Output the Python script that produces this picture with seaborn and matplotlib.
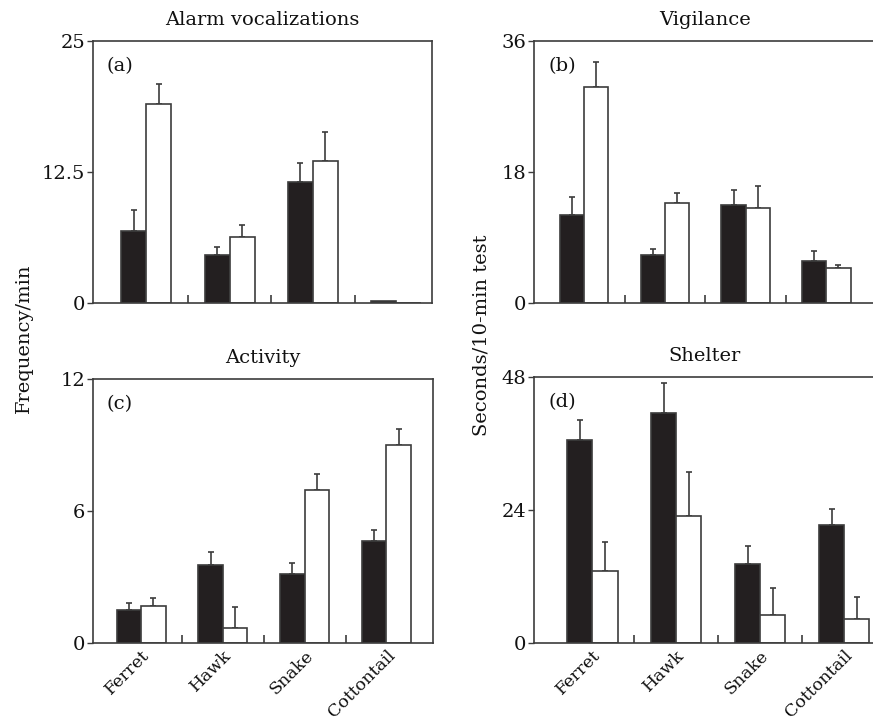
import numpy as np
import pandas as pd
import matplotlib
matplotlib.use("Agg")
import matplotlib.pyplot as plt
import seaborn as sns

# ---------------- data ----------------
categories = ["Ferret", "Hawk", "Snake", "Cottontail"]
groups = ["Filled", "Open"]

alarm_filled = [6.8, 4.5, 11.5, 0.15]
alarm_open = [19.0, 6.25, 13.5, 0.0]
alarm_filled_se = [2.0, 0.85, 1.8, 0.0]
alarm_open_se = [1.9, 1.2, 2.8, 0.0]

vig_filled = [12.0, 6.5, 13.4, 5.65]
vig_open = [29.7, 13.7, 13.0, 4.7]
vig_filled_se = [2.5, 0.9, 2.1, 1.4]
vig_open_se = [3.4, 1.4, 3.1, 0.5]

act_filled = [1.5, 3.55, 3.15, 4.64]
act_open = [1.66, 0.7, 6.97, 9.0]
act_filled_se = [0.33, 0.6, 0.5, 0.49]
act_open_se = [0.38, 0.95, 0.72, 0.75]

shel_filled = [36.7, 41.5, 14.2, 21.3]
shel_open = [13.0, 22.9, 5.1, 4.4]
shel_filled_se = [3.5, 5.5, 3.3, 2.8]
shel_open_se = [5.3, 8.0, 4.9, 3.9]

titles = ["Alarm vocalizations", "Vigilance", "Activity", "Shelter"]
letters = ["(a)", "(b)", "(c)", "(d)"]
yticks_list = [[0, 12.5, 25], [0, 18, 36], [0, 6, 12], [0, 24, 48]]
ytick_labels = [["0", "12.5", "25"], ["0", "18", "36"], ["0", "6", "12"], ["0", "24", "48"]]

# ---------------- style ----------------
sns.set_style("ticks")
plt.rcParams["font.family"] = ["DejaVu Serif"]
EDGE = "#3c3c3c"
FILL = "#231f20"
TXT = "#111111"
FS = 14

W, H = 873, 728
fig = plt.figure(figsize=(W / 100, H / 100), dpi=100)


def rect(l, r, t, b):
    return [l / W, 1 - b / H, (r - l) / W, (b - t) / H]


panels = [
    dict(pos=rect(93, 432, 41, 302.5), xlim=(-0.64, 3.43),
         vals=(alarm_filled, alarm_open), se=(alarm_filled_se, alarm_open_se), bottom=False, right=True),
    dict(pos=rect(534, 876, 41, 302.5), xlim=(-0.623, 3.615),
         vals=(vig_filled, vig_open), se=(vig_filled_se, vig_open_se), bottom=False, right=False),
    dict(pos=rect(93, 433, 379, 643), xlim=(-0.59, 3.57),
         vals=(act_filled, act_open), se=(act_filled_se, act_open_se), bottom=True, right=True),
    dict(pos=rect(534, 876, 377, 643), xlim=(-0.695, 3.38),
         vals=(shel_filled, shel_open), se=(shel_filled_se, shel_open_se), bottom=True, right=False),
]

for i, p in enumerate(panels):
    ax = fig.add_axes(p["pos"])
    filled, opened = p["vals"]
    df = pd.DataFrame({
        "category": categories + categories,
        "group": [groups[0]] * 4 + [groups[1]] * 4,
        "value": list(filled) + list(opened),
    })
    sns.barplot(data=df, x="category", y="value", hue="group", order=categories,
                hue_order=groups, palette={groups[0]: FILL, groups[1]: "white"},
                width=0.6, saturation=1, edgecolor=EDGE, linewidth=1.2,
                errorbar=None, legend=False, ax=ax, zorder=2)

    # error bars (upper only) from the drawn bars
    for cont, se in zip(ax.containers, p["se"]):
        xs, ys, es = [], [], []
        for patch, e in zip(cont.patches, se):
            if e > 0:
                xs.append(patch.get_x() + patch.get_width() / 2)
                ys.append(patch.get_height())
                es.append(e)
        if xs:
            ax.errorbar(xs, ys, yerr=[np.zeros(len(es)), es], fmt="none",
                        ecolor=EDGE, elinewidth=1.2, capsize=2.0, capthick=1.2, zorder=1)

    ax.set_xlim(*p["xlim"])
    ax.set_ylim(yticks_list[i][0], yticks_list[i][-1])
    ax.set_yticks(yticks_list[i])
    ax.set_yticklabels(ytick_labels[i])
    ax.set_xlabel("")
    ax.set_ylabel("")

    for side in ["left", "bottom", "top", "right"]:
        ax.spines[side].set_visible(True)
        ax.spines[side].set_color(EDGE)
        ax.spines[side].set_linewidth(1.2)
    if not p["right"]:
        ax.spines["right"].set_visible(False)

    ax.tick_params(axis="y", direction="out", length=4, width=1, color=EDGE,
                   labelsize=FS, pad=1.5, labelcolor=TXT)
    ax.set_xticks([0.5, 1.5, 2.5], minor=True)
    ax.tick_params(axis="x", which="minor", direction="in", length=5.5, width=1.2, color=EDGE)
    ax.tick_params(axis="x", which="major", length=0, labelsize=12.5, pad=3, labelcolor=TXT)
    ax.set_xticks(range(len(categories)))
    if p["bottom"]:
        ax.set_xticklabels(categories, rotation=45, ha="right", rotation_mode="anchor")
    else:
        ax.set_xticklabels([])

    ax.set_title(titles[i], fontsize=FS, pad=11.5, color=TXT)
    ax.annotate(letters[i], xy=(0, 1), xycoords="axes fraction", xytext=(14, -16),
                textcoords="offset pixels", ha="left", va="top", fontsize=FS, color=TXT)

fig.text(24 / W, 1 - 338 / H, "Frequency/min", rotation=90, ha="center", va="center",
         fontsize=FS, color=TXT)
fig.text(481 / W, 1 - 335 / H, "Seconds/10-min test", rotation=90, ha="center", va="center",
         fontsize=FS, color=TXT)

fig.savefig("out.png", dpi=100)
